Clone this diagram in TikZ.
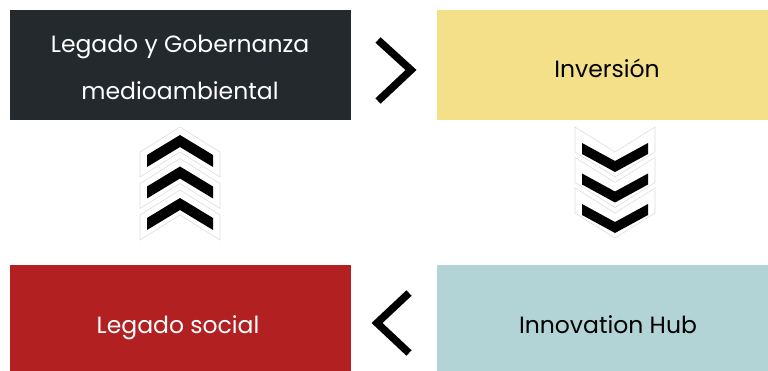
\documentclass[tikz,border=0pt]{standalone}
\usepackage{fontspec}
\setmainfont{Poppins}
\definecolor{cdark}{RGB}{36,41,45}
\definecolor{cyellow}{RGB}{245,224,138}
\definecolor{cred}{RGB}{178,32,34}
\definecolor{cteal}{RGB}{178,212,214}
\definecolor{cghost}{RGB}{222,222,222}
\tikzset{
  box/.style={rectangle, inner sep=0pt, draw=none, anchor=north west},
  lbl/.style={anchor=base, inner sep=0pt, font=\fontsize{23.5}{23.5}\selectfont},
  chev/.style={fill=black, draw=none},
  ghost/.style={draw=cghost, line width=0.6pt, fill=none},
  turn/.style={draw=black, line width=7.5pt, line cap=butt, line join=miter},
}
\begin{document}
\begin{tikzpicture}[x=1pt,y=-1pt]
\useasboundingbox (0,0) rectangle (768,371);
% boxes
\node[box, fill=cdark, minimum width=341pt, minimum height=110pt] (gob) at (10,10) {};
\node[box, fill=cyellow, minimum width=331pt, minimum height=110pt] (inv) at (437,10) {};
\node[box, fill=cred, minimum width=341pt, minimum height=106pt] (soc) at (10,265) {};
\node[box, fill=cteal, minimum width=331pt, minimum height=106pt] (hub) at (437,265) {};
% labels
\node[lbl, text=white] (t1) at (180,53) {Legado y Gobernanza};
\node[lbl, text=white] (t2) at (180,100) {medioambiental};
\node[lbl, text=black] (t3) at (607,78) {Inversión};
\node[lbl, text=white] (t4) at (178,333) {Legado social};
\node[lbl, text=black] (t5) at (608,333) {Innovation Hub};
% turn chevrons
\coordinate (ra) at (378,40);
\coordinate (rb) at (411,70);
\coordinate (rc) at (378,101);
\draw[turn] (ra) -- (rb) -- (rc);
\coordinate (la) at (409,293);
\coordinate (lb) at (377,323);
\coordinate (lc) at (409,353);
\draw[turn] (la) -- (lb) -- (lc);
% up chevrons (left)
\foreach \i in {0,1,2} {
  \begin{scope}[yshift=-31.5*\i pt]
    \draw[ghost] (180,127) -- (220,152) -- (220,177) -- (180,152) -- (140,177) -- (140,152) -- cycle;
    \fill[chev] (180,135) -- (213,155) -- (213,167) -- (180,147) -- (147,167) -- (147,155) -- cycle;
  \end{scope}
}
% down chevrons (right)
\foreach \i in {0,1,2} {
  \begin{scope}[yshift=-30.5*\i pt]
    \draw[ghost] (575,127) -- (615,152) -- (655,127) -- (655,152) -- (615,177) -- (575,152) -- cycle;
    \fill[chev] (582,143) -- (615,161) -- (648,143) -- (648,154) -- (615,172) -- (582,154) -- cycle;
  \end{scope}
}
\end{tikzpicture}
\end{document}
